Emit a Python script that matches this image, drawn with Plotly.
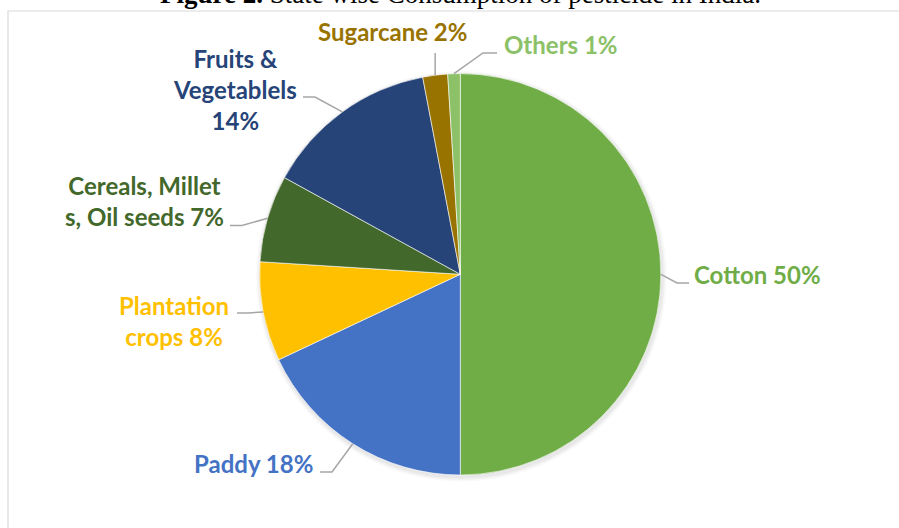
import math
import plotly.graph_objects as go

# ---- data ----
categories = ["Cotton", "Paddy", "Plantation crops", "Cereals, Millets, Oil seeds",
              "Fruits & Vegetablels", "Sugarcane", "Others"]
values = [50, 18, 8, 7, 14, 2, 1]
label_text = ["Cotton 50%", "Paddy 18%", "Plantation<br>crops 8%",
              "Cereals, Millet<br>s, Oil seeds 7%", "Fruits &<br>Vegetablels<br>14%",
              "Sugarcane 2%", "Others 1%"]
colors = ["#70AD47", "#4472C4", "#FFC000", "#43682B", "#264478", "#997300", "#8CC168"]
title_bold = "Figure 2."
title_rest = " State wise Consumption of pesticide in India."

# ---- geometry (pixels) ----
W, H = 899, 528
CX, CY, R = 460.3, 274.3, 200.7


def px(x):
    return x / W


def py(y):
    return 1 - y / H


# label placement: text anchor (x, y, xanchor), leader elbow, leader end (pixels)
placement = {
    "Cotton": dict(x=692, y=274, xa="left", elbow=(677, 283), end=(689, 283)),
    "Paddy": dict(x=315, y=463, xa="right", elbow=(332, 472), end=(320, 472)),
    "Plantation crops": dict(x=174, y=321, xa="center", elbow=(248, 313), end=(237, 313)),
    "Cereals, Millets, Oil seeds": dict(x=144, y=201, xa="center", elbow=(242, 225.5), end=(230, 225.5)),
    "Fruits & Vegetablels": dict(x=235, y=89, xa="center", elbow=(315, 97), end=(303, 97)),
    "Sugarcane": dict(x=392, y=31, xa="center", elbow=None, end=(None, 53)),
    "Others": dict(x=502, y=45, xa="left", elbow=(483, 53), end=(497, 53)),
}

fig = go.Figure()
fig.add_trace(go.Pie(
    labels=categories, values=values, sort=False, direction="clockwise", rotation=0,
    marker=dict(colors=colors, line=dict(color="white", width=0.6)),
    textinfo="none", hoverinfo="label+percent", showlegend=False,
    domain=dict(x=[px(CX - R), px(CX + R)], y=[py(CY + R), py(CY - R)]),
))

shapes = []
annotations = []

# soft shadow around the pie
for i, a in enumerate([0.035, 0.03, 0.025]):
    rr = R + 1.5 + i * 1.5
    shapes.append(dict(type="circle", xref="paper", yref="paper", layer="below",
                       x0=px(CX - rr + 1), x1=px(CX + rr + 1), y0=py(CY + rr + 2), y1=py(CY - rr + 2),
                       fillcolor=f"rgba(0,0,0,{a})", line=dict(width=0)))

# chart frame
shapes.append(dict(type="rect", xref="paper", yref="paper", layer="below",
                   x0=px(8), x1=px(910), y0=py(540), y1=py(11),
                   line=dict(color="#D9D9D9", width=1.2), fillcolor="rgba(0,0,0,0)"))

total = sum(values)
cum = 0
for cat, v, txt, col in zip(categories, values, label_text, colors):
    mid = (cum + v / 2) / total * 2 * math.pi
    cum += v
    sx = CX + R * math.sin(mid)
    sy = CY - R * math.cos(mid)
    p = placement[cat]
    ex, ey = p["end"]
    if ex is None:
        ex = sx
    pts = [(sx, sy)]
    if p["elbow"] is not None:
        pts.append(p["elbow"])
    pts.append((ex, ey))
    path = "M " + " L ".join(f"{px(a):.5f},{py(b):.5f}" for a, b in pts)
    shapes.append(dict(type="path", xref="paper", yref="paper", path=path,
                       line=dict(color="#A6A6A6", width=1.5)))
    annotations.append(dict(text=f"<b>{txt}</b>", x=px(p["x"]), y=py(p["y"]),
                            xref="paper", yref="paper", xanchor=p["xa"], yanchor="middle",
                            align="center", showarrow=False,
                            font=dict(family="Lato", size=24, color=col)))

# title (partly cut off at top)
annotations.append(dict(text=f"<b>{title_bold}</b>{title_rest}", x=px(460), y=py(11),
                        xref="paper", yref="paper", xanchor="center", yanchor="bottom",
                        showarrow=False, font=dict(family="Liberation Serif", size=27, color="black")))

fig.update_layout(width=W, height=H, margin=dict(l=0, r=0, t=0, b=0),
                  paper_bgcolor="white", plot_bgcolor="white",
                  shapes=shapes, annotations=annotations)

fig.write_html("out.html", config={"displayModeBar": False},
               post_script="document.body.style.margin='0';document.body.style.overflow='hidden';")
